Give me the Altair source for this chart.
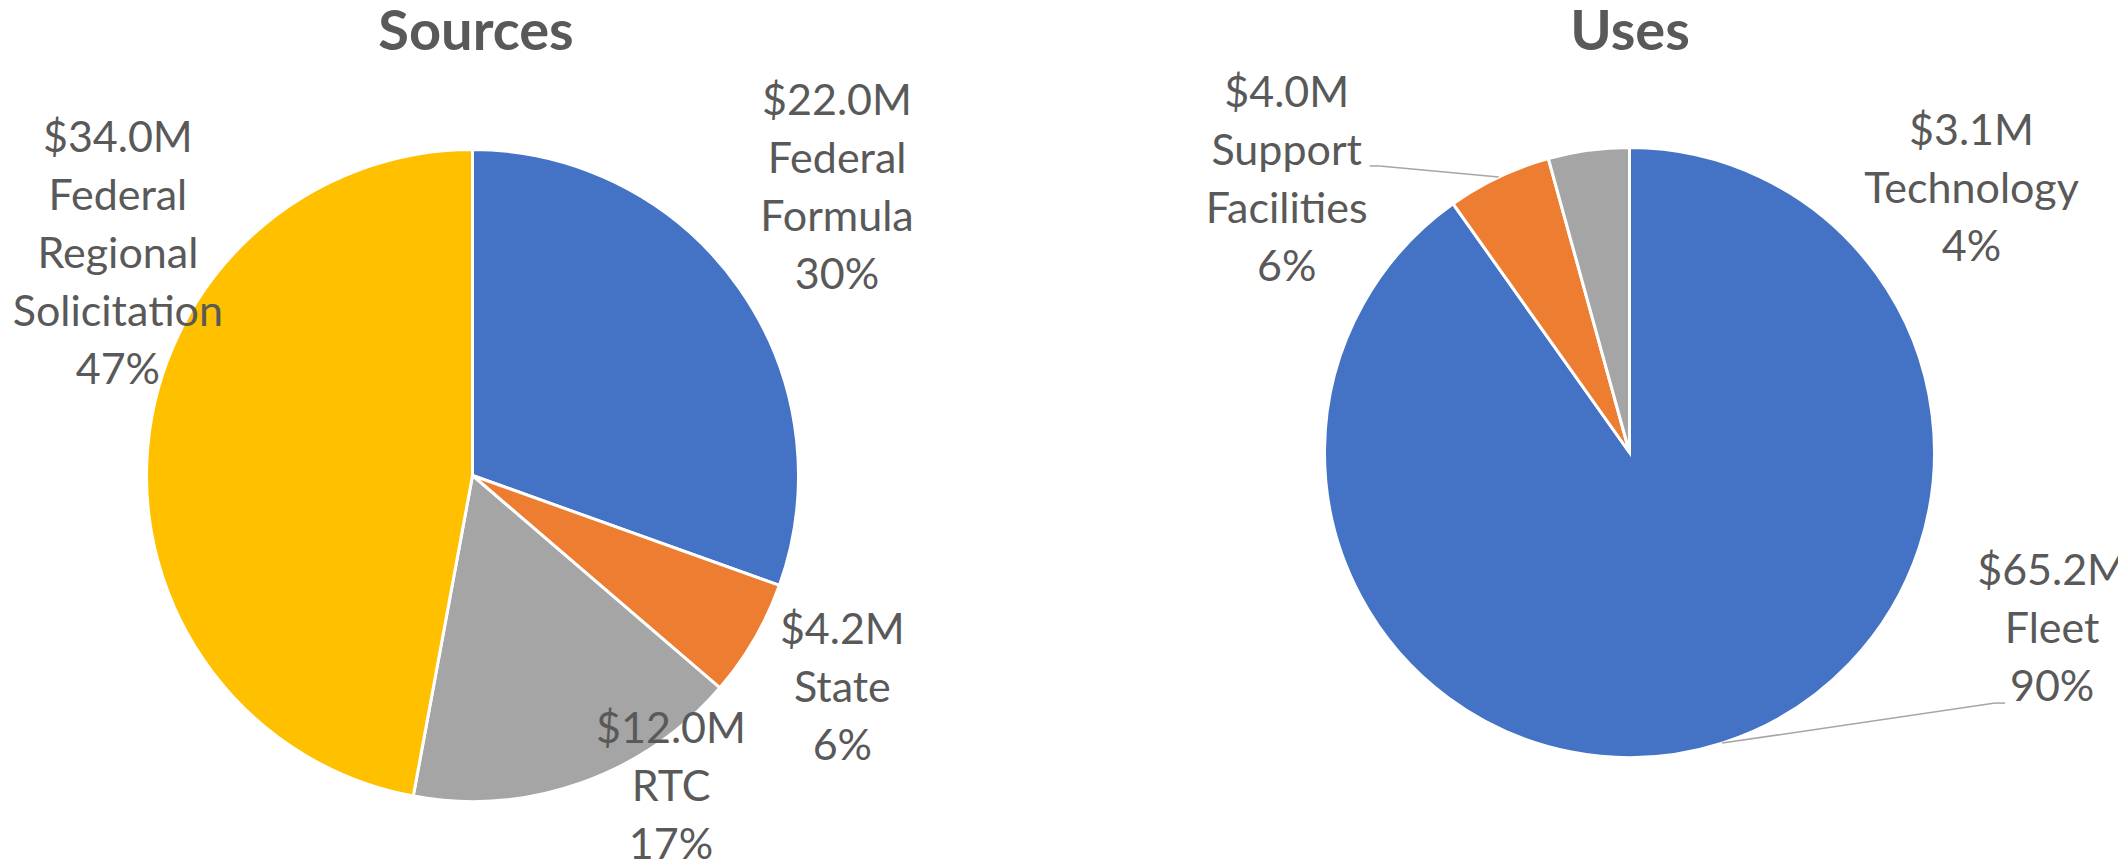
import altair as alt
import pandas as pd

# ---------------- data ----------------
src_categories = ["Federal Formula", "State", "RTC", "Federal Regional Solicitation"]
src_values = [22.0, 4.2, 12.0, 34.0]          # $M
src_colors = ["#4472C4", "#ED7D31", "#A5A5A5", "#FFC000"]

use_categories = ["Fleet", "Support Facilities", "Technology"]
use_values = [65.2, 4.0, 3.1]                 # $M
use_colors = ["#4472C4", "#ED7D31", "#A5A5A5"]

titles = ["Sources", "Uses"]

# ---------------- layout (pixels) ----------------
W, H = 2110, 852
SRC_CX, SRC_CY, SRC_R = 464.5, 467.5, 326
USE_CX, USE_CY, USE_R = 1621.5, 444.5, 305
TITLE_X = [468, 1622]
TITLE_Y = 42

# label offsets (block centre) from the slice's outer-edge midpoint
src_label_dx = [98, 88, 90, -30]
src_label_dy = [-99, 50, 5, -191]
src_leader = [False, False, False, False]
use_label_dx = [330, -212, 383]
use_label_dy = [-113, 4, 40]
use_leader = [True, True, False]
# leader knee / end offsets relative to label centre
use_knee_dx = [-57, 93, 0]
use_knee_dy = [73, -15, 0]
use_end_dx = [-47, 83, 0]
use_end_dy = [73, -15, 0]

FONT = "Lato"
TEXT_COLOR = "#595959"
LABEL_SIZE = 43
LINE_H = 58


def make_df(cats, vals, cols, ldx, ldy, leader, kdx=None, kdy=None, edx=None, edy=None):
    n = len(cats)
    z = [0] * n
    wrapped = [c.replace(" ", "\n") for c in cats]
    return pd.DataFrame({
        "category": cats,
        "wrapped": wrapped,
        "nlines": [w.count("\n") + 3 for w in wrapped],
        "value": vals,
        "color": cols,
        "idx": list(range(n)),
        "ox": ldx, "oy": ldy,
        "leader": leader,
        "kdx": kdx or z, "kdy": kdy or z,
        "edx": edx or z, "edy": edy or z,
    })


def pie_layers(df, cx, cy, r):
    base = alt.Chart(df)
    arc = base.mark_arc(outerRadius=r, stroke="white", strokeWidth=3).encode(
        theta=alt.Theta("value:Q", stack=True),
        order=alt.Order("idx:Q"),
        color=alt.Color("color:N", scale=None),
        x=alt.value(cx),
        y=alt.value(cy),
    )
    geo = (
        base.transform_joinaggregate(total="sum(value)")
        .transform_window(cum="sum(value)", sort=[alt.SortField("idx")], frame=[None, 0])
        .transform_calculate(mid="(datum.cum - datum.value / 2) / datum.total * 2 * PI")
        .transform_calculate(pct="datum.value / datum.total")
        .transform_calculate(ex=f"{cx} + {r} * sin(datum.mid)")
        .transform_calculate(ey=f"{cy} - {r} * cos(datum.mid)")
        .transform_calculate(lx="datum.ex + datum.ox")
        .transform_calculate(ly="datum.ey + datum.oy")
        .transform_calculate(ty=f"datum.ly - (datum.nlines - 1) * {LINE_H} / 2")
        .transform_calculate(kx="datum.lx + datum.kdx")
        .transform_calculate(ky="datum.ly + datum.kdy")
        .transform_calculate(nx="datum.lx + datum.edx")
        .transform_calculate(ny="datum.ly + datum.edy")
        .transform_calculate(
            txt="'$' + format(datum.value, '.1f') + 'M\\n' + datum.wrapped + '\\n' + format(datum.pct, '.0%')"
        )
    )
    text = geo.mark_text(
        font=FONT, fontSize=LABEL_SIZE, color=TEXT_COLOR, lineBreak="\n",
        lineHeight=LINE_H, align="center", baseline="middle",
    ).encode(
        x=alt.X("lx:Q", scale=None, axis=None),
        y=alt.Y("ty:Q", scale=None, axis=None),
        text="txt:N",
    )
    lead = geo.transform_filter("datum.leader")
    rule1 = lead.mark_rule(color="#A6A6A6", strokeWidth=1.5).encode(
        x=alt.X("ex:Q", scale=None, axis=None),
        y=alt.Y("ey:Q", scale=None, axis=None),
        x2="kx:Q", y2="ky:Q",
    )
    rule2 = lead.mark_rule(color="#A6A6A6", strokeWidth=1.5).encode(
        x=alt.X("kx:Q", scale=None, axis=None),
        y=alt.Y("ky:Q", scale=None, axis=None),
        x2="nx:Q", y2="ny:Q",
    )
    return [arc, rule1, rule2, text]


src_df = make_df(src_categories, src_values, src_colors, src_label_dx, src_label_dy, src_leader)
use_df = make_df(use_categories, use_values, use_colors, use_label_dx, use_label_dy, use_leader,
                 use_knee_dx, use_knee_dy, use_end_dx, use_end_dy)

title_layers = []
for t, tx in zip(titles, TITLE_X):
    title_layers.append(
        alt.Chart(pd.DataFrame({"t": [t]})).mark_text(
            font=FONT, fontSize=56, fontWeight="bold", color=TEXT_COLOR,
            align="center", baseline="alphabetic",
        ).encode(text="t:N", x=alt.value(tx), y=alt.value(TITLE_Y))
    )

layers = pie_layers(src_df, SRC_CX, SRC_CY, SRC_R) + pie_layers(use_df, USE_CX, USE_CY, USE_R) + title_layers

chart = (
    alt.layer(*layers)
    .resolve_scale(theta="independent")
    .properties(width=W, height=H, autosize=alt.AutoSizeParams(type="none"), padding=0,
                background="white")
    .configure_view(stroke=None)
)

chart.save("out.html", embed_options={"renderer": "svg", "actions": False})
